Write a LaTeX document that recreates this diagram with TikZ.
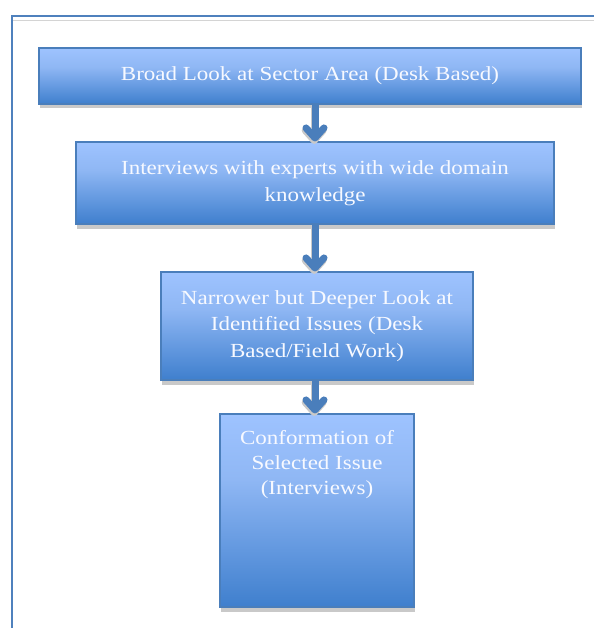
\documentclass[tikz,border=0pt]{standalone}
\usepackage{fontspec}
\setmainfont{Liberation Serif}[FakeStretch=1.15]
\usetikzlibrary{arrows.meta,shadows}
\definecolor{topc}{HTML}{9EC3FF}
\definecolor{midl}{HTML}{8FB7F4}
\definecolor{midd}{HTML}{5E95DD}
\definecolor{botc}{HTML}{3F7FCD}
\definecolor{edgec}{HTML}{4A7EBB}
\definecolor{arrc}{HTML}{4A7EBB}
\definecolor{shadc}{HTML}{C9C9C9}
\definecolor{framec}{HTML}{4F81BD}
\definecolor{framegray}{HTML}{D4D4D4}
\definecolor{txtc}{HTML}{F7F9FF}
\pgfdeclareverticalshading{wordblue}{100bp}{color(0bp)=(botc); color(25bp)=(botc); color(38bp)=(midd); color(58bp)=(midl); color(75bp)=(topc); color(100bp)=(topc)}
\begin{document}
\begin{tikzpicture}[x=1pt,y=-1pt,
  boxstyle/.style={draw=edgec, line width=1.1pt, shading=wordblue, inner sep=0pt,
    text=txtc, align=center, font=\fontsize{20}{26.5}\selectfont,
    drop shadow={shadow xshift=0.5pt, shadow yshift=-4.5pt, fill=shadc, opacity=1}},
  txtstyle/.style={text=txtc, align=center, inner sep=0pt, font=\fontsize{20}{25}\selectfont},
  arrstyle/.style={draw=arrc, line width=7pt, -{Straight Barb[round,length=10pt,width=18pt]}},
  arrshadow/.style={draw=shadc, line width=7pt, -{Straight Barb[round,length=10pt,width=18pt]}, transform canvas={xshift=-0.8pt,yshift=-2.5pt}}]
\useasboundingbox (0,0) rectangle (594,628);
% frame
\draw[framec, line width=2pt] (12,628) -- (12,16) -- (594,16);
\draw[framegray, line width=1.5pt] (13,20.5) -- (594,20.5);
% boxes
\node[boxstyle, minimum width=542pt, minimum height=56pt] (b1) at (310,76)
  {Broad Look at Sector Area (Desk Based)};
\node[boxstyle, minimum width=478pt, minimum height=82pt] (b2) at (315,183)
  {Interviews with experts with wide domain\\knowledge};
\node[boxstyle, minimum width=312pt, minimum height=108pt] (b3) at (317,326)
  {Narrower but Deeper Look at\\Identified Issues (Desk\\Based/Field Work)};
\node[boxstyle, minimum width=194pt, minimum height=193pt] (b4) at (317,510.5) {};
\node[txtstyle, anchor=north] (t4) at (317,430)
  {Conformation of\\Selected Issue\\(Interviews)};
% arrows
\coordinate (ax) at (315,0);
\draw[arrshadow] (b1.south -| ax) -- (b2.north -| ax);
\draw[arrshadow] (b2.south -| ax) -- (b3.north -| ax);
\draw[arrshadow] (b3.south -| ax) -- (b4.north -| ax);
\draw[arrstyle] (b1.south -| ax) -- (b2.north -| ax);
\draw[arrstyle] (b2.south -| ax) -- (b3.north -| ax);
\draw[arrstyle] (b3.south -| ax) -- (b4.north -| ax);
\end{tikzpicture}
\end{document}
